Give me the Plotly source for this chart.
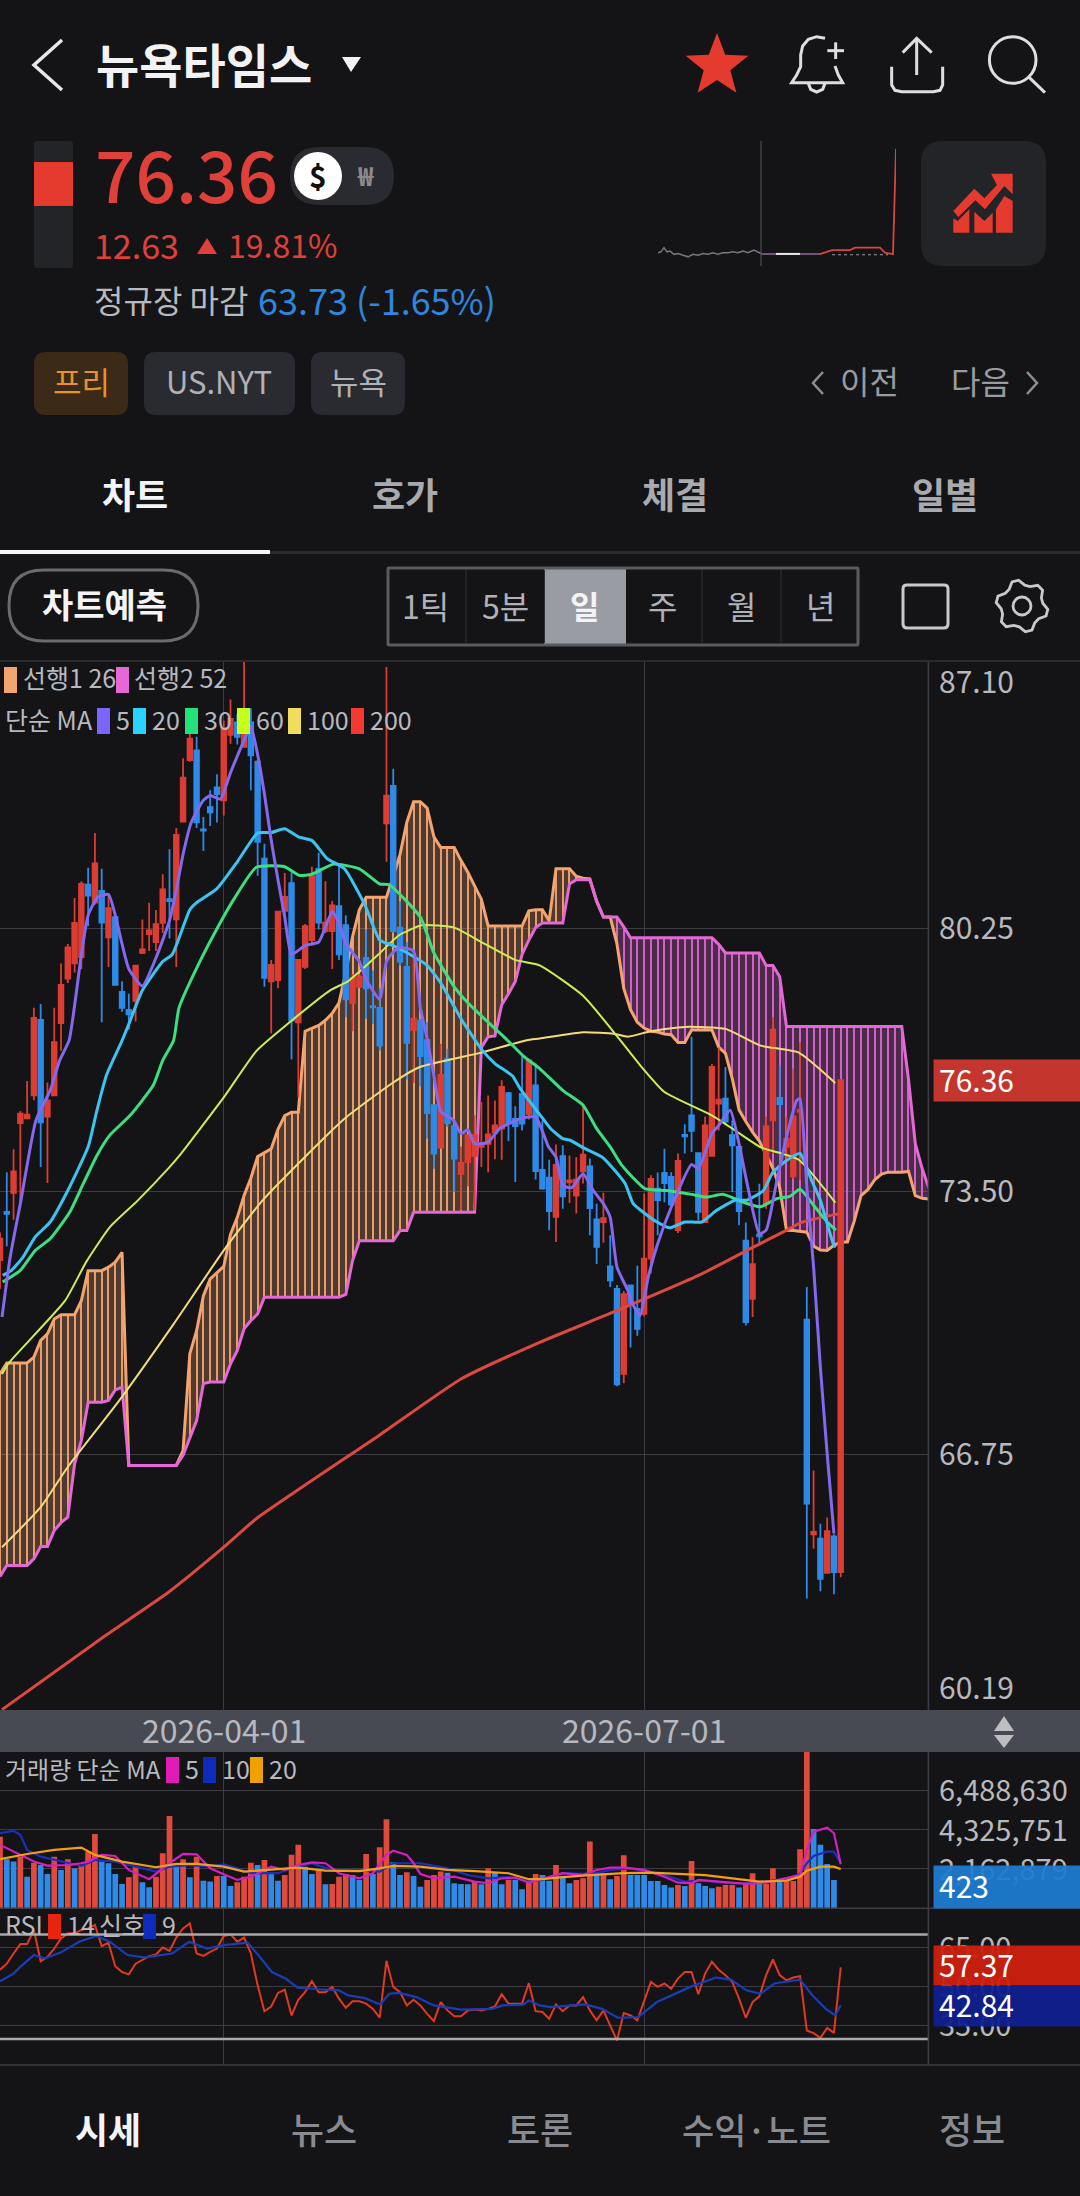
import numpy as np
import plotly.graph_objects as go

W = 1080
H = 2196
BG = '#141417'
FONT = 'Noto Sans CJK KR'
RED = '#DC3D32'
BLUE = '#2E8AE6'
GRID = '#3c3d42'

# candles, one per trading day
opens = [71.74, 72.98, 73.47, 75.26, 75.38, 75.97, 77.91, 75.43, 75.97, 77.83,
         78.97, 79.36, 79.52, 81.38, 80.92, 81.22, 80.03, 80.55, 78.63, 78.17,
         78.40, 79.63, 80.11, 79.91, 80.40, 81.01, 80.49, 83.00, 84.58, 84.83,
         82.80, 83.37, 83.88, 83.55, 85.23, 85.55, 84.92, 85.55, 84.54, 82.05,
         78.90, 78.93, 80.71, 81.42, 77.85, 79.27, 79.96, 81.79, 80.19, 80.19,
         80.83, 80.34, 78.35, 78.76, 79.50, 78.26, 78.22, 82.96, 83.92, 80.28,
         79.27, 77.65, 77.89, 77.39, 75.72, 74.63, 76.91, 75.18, 73.96, 74.26,
         74.41, 74.65, 74.73, 75.01, 75.12, 76.03, 75.37, 76.01, 75.50, 76.23,
         74.06, 73.86, 72.85, 74.41, 73.74, 73.40, 74.02, 74.15, 72.79, 72.72,
         71.58, 71.00, 68.82, 71.09, 70.49, 70.36, 71.78, 73.58, 73.98, 73.88,
         72.51, 74.96, 75.46, 74.49, 72.72, 74.42, 75.76, 75.89, 74.95, 74.65,
         72.24, 70.75, 72.40, 73.19, 75.33, 75.91, 74.65, 73.89, 75.55, 70.21,
         64.70, 64.59, 63.71, 64.65, 63.73]
closes = [72.29, 72.93, 74.02, 75.50, 75.48, 77.96, 75.28, 75.84, 77.34, 78.81,
          79.77, 80.40, 81.40, 81.10, 81.93, 80.41, 80.78, 78.81, 78.22, 78.05,
          79.30, 79.72, 80.21, 80.37, 81.26, 80.96, 82.66, 84.13, 85.13, 82.98,
          82.77, 83.24, 83.71, 85.41, 85.64, 85.18, 85.23, 84.70, 82.48, 78.99,
          79.32, 80.69, 81.07, 77.89, 79.45, 80.32, 81.60, 80.41, 80.41, 80.85,
          79.59, 78.44, 78.99, 79.02, 78.72, 78.23, 77.25, 83.67, 80.19, 79.41,
          77.32, 77.94, 76.98, 75.52, 74.48, 76.50, 75.26, 74.35, 74.24, 74.95,
          74.96, 74.75, 74.97, 75.20, 76.19, 75.25, 75.18, 75.25, 76.87, 74.03,
          73.58, 73.00, 74.19, 73.38, 73.79, 73.81, 74.45, 73.08, 72.08, 72.82,
          71.22, 68.55, 70.87, 70.62, 69.98, 71.78, 73.83, 73.28, 73.72, 73.17,
          74.29, 74.92, 75.06, 72.98, 75.20, 76.70, 75.86, 75.30, 74.69, 73.00,
          70.15, 71.64, 72.35, 75.18, 77.66, 75.75, 74.86, 75.43, 75.60, 65.49,
          64.76, 63.56, 64.78, 63.73, 76.36]
highs = [72.46, 74.00, 74.59, 75.57, 76.34, 78.22, 78.32, 76.30, 78.22, 79.36,
         79.86, 81.04, 81.47, 81.82, 82.71, 81.79, 81.10, 80.60, 78.90, 78.58,
         79.32, 80.49, 80.92, 80.73, 81.65, 82.29, 82.84, 84.63, 85.41, 85.18,
         83.12, 83.81, 84.22, 85.60, 86.14, 85.78, 87.10, 85.91, 84.58, 82.43,
         79.45, 80.70, 81.68, 81.70, 79.45, 80.37, 81.84, 82.20, 81.47, 80.96,
         81.88, 80.60, 79.09, 79.09, 80.23, 79.18, 78.72, 86.97, 84.36, 80.96,
         79.91, 79.68, 77.94, 77.85, 75.74, 77.30, 77.17, 75.25, 74.66, 74.95,
         75.46, 75.80, 75.97, 75.84, 76.36, 76.06, 75.69, 77.02, 76.89, 76.80,
         75.33, 74.32, 74.71, 74.69, 74.43, 74.39, 75.72, 74.35, 73.19, 73.47,
         72.38, 71.10, 70.95, 71.10, 71.60, 73.45, 73.92, 73.99, 74.60, 74.00,
         74.48, 75.23, 77.48, 74.50, 75.43, 76.78, 77.20, 76.70, 75.33, 74.69,
         72.71, 72.33, 73.70, 75.42, 77.98, 76.74, 75.42, 76.66, 77.34, 71.05,
         66.34, 64.97, 65.13, 64.70, 76.40]
lows = [71.00, 72.10, 72.78, 73.19, 75.38, 75.85, 74.13, 73.72, 75.97, 77.12,
        78.86, 79.13, 79.22, 80.32, 80.87, 77.85, 79.27, 78.81, 78.12, 77.66,
        77.87, 79.60, 79.68, 79.68, 80.14, 80.00, 79.27, 82.98, 84.54, 82.84,
        82.25, 82.89, 82.98, 83.16, 85.00, 84.98, 84.90, 83.81, 81.61, 78.76,
        77.57, 78.72, 80.41, 76.89, 75.92, 79.22, 79.82, 80.23, 80.14, 79.22,
        79.45, 77.98, 77.62, 78.72, 77.94, 77.80, 77.12, 81.97, 80.15, 79.30,
        76.38, 76.29, 76.20, 74.86, 74.09, 74.60, 75.16, 73.49, 73.02, 73.64,
        73.02, 74.13, 74.00, 74.33, 74.32, 74.80, 73.75, 75.07, 75.35, 73.81,
        73.55, 72.51, 72.21, 73.06, 73.21, 72.94, 73.71, 72.38, 71.64, 72.19,
        71.05, 68.50, 68.58, 69.50, 69.80, 70.30, 71.40, 72.38, 73.23, 73.15,
        72.44, 74.48, 74.52, 72.76, 72.72, 74.42, 75.07, 75.25, 73.49, 72.64,
        70.06, 70.28, 72.12, 73.06, 74.48, 74.40, 74.30, 73.83, 73.79, 63.05,
        64.33, 63.24, 63.71, 63.16, 63.60]

# ichimoku spans, run 26 days past the last candle
span1 = [68.82, 69.10, 69.10, 69.10, 69.10, 69.25, 69.68, 69.85, 70.23, 70.34,
         70.34, 70.34, 70.70, 71.47, 71.47, 71.47, 71.56, 71.69, 71.94, 66.47,
         66.47, 66.47, 66.47, 66.47, 66.47, 66.47, 66.47, 66.85, 69.34, 69.93,
         70.83, 71.26, 71.43, 71.58, 72.41, 72.84, 73.40, 73.85, 74.40, 74.50,
         74.60, 75.10, 75.45, 75.54, 75.54, 77.62, 77.70, 77.77, 77.90, 78.08,
         78.35, 79.13, 80.05, 80.74, 81.06, 81.06, 81.06, 81.06, 81.60, 82.16,
         82.98, 83.51, 83.51, 83.35, 82.61, 82.34, 82.34, 82.34, 82.00, 81.70,
         81.35, 81.01, 80.32, 80.32, 80.32, 80.32, 80.32, 80.32, 80.71, 80.74,
         80.74, 80.46, 81.79, 81.79, 81.79, 81.60, 81.55, 81.53, 80.96, 80.55,
         80.55, 79.86, 78.72, 78.17, 77.85, 77.70, 77.62, 77.60, 77.55, 77.53,
         77.33, 77.33, 77.65, 77.65, 77.65, 77.65, 77.21, 77.05, 76.40, 75.60,
         75.30, 75.03, 74.80, 74.45, 74.10, 73.60, 72.51, 72.50, 72.48, 72.46,
         72.10, 72.00, 71.99, 72.12, 72.21, 72.21, 72.75, 73.40, 73.55, 73.80,
         73.95, 74.00, 74.00, 74.00, 74.02, 73.40, 73.33, 73.31]
span2 = [63.62, 63.90, 63.90, 63.90, 63.90, 64.07, 64.39, 64.39, 64.80, 65.00,
         65.14, 66.51, 67.11, 68.09, 68.09, 68.09, 68.14, 68.41, 68.48, 66.47,
         66.47, 66.47, 66.47, 66.47, 66.47, 66.47, 66.47, 66.73, 67.20, 67.62,
         68.57, 68.61, 68.61, 68.61, 69.08, 69.42, 69.98, 70.19, 70.36, 70.79,
         70.79, 70.79, 70.79, 70.79, 70.79, 70.79, 70.79, 70.79, 70.79, 70.79,
         70.79, 70.86, 71.73, 72.24, 72.24, 72.24, 72.24, 72.24, 72.24, 72.50,
         72.50, 72.97, 72.97, 72.97, 72.97, 72.97, 72.97, 72.97, 72.97, 72.97,
         72.97, 77.20, 77.48, 77.50, 78.30, 78.58, 78.90, 79.59, 79.96, 80.28,
         80.40, 80.40, 80.40, 80.40, 81.40, 81.51, 81.51, 81.51, 80.96, 80.55,
         80.55, 80.55, 80.30, 80.02, 80.02, 80.02, 80.02, 80.02, 80.02, 80.02,
         80.02, 80.02, 80.02, 80.02, 80.02, 80.02, 79.85, 79.63, 79.63, 79.63,
         79.63, 79.63, 79.63, 79.31, 79.31, 79.02, 77.74, 77.74, 77.74, 77.74,
         77.74, 77.74, 77.74, 77.74, 77.74, 77.74, 77.74, 77.74, 77.74, 77.74,
         77.74, 77.74, 77.74, 77.74, 76.38, 74.73, 74.10, 73.59]

# moving averages, read at the line's bends
ma5_x = [0.3, 1.5, 3, 5.3, 7.4, 8.8, 10.2, 12, 13, 14.4, 16, 17, 18, 19, 21, 23, 25, 26, 27, 28.2, 30, 31,
         32.5, 34, 36, 37, 38, 39, 40, 41, 42, 43, 45, 47, 49, 50, 51, 53, 54, 56, 57, 58, 59, 61, 62, 63,
         64, 65, 66.9, 68, 69, 70, 72, 73.7, 76.7, 79, 80.9, 82, 83, 84.3, 86, 87.5, 89, 90, 91, 92.5, 93.3,
         94.4, 95.6, 97, 99, 102, 103, 105, 106, 107.7, 109, 110.3, 112, 113, 114.5, 116, 117.5, 118, 119,
         120, 121, 122, 123]
ma5_y = [70.28, 71.82, 73.19, 75.33, 76.10, 76.87, 77.39, 79.59, 80.60, 81.06, 81.13, 80.60, 79.86, 79.22,
         78.78, 79.50, 80.46, 81.24, 82.16, 82.98, 83.55, 83.67, 83.58, 84.26, 85.09, 85.45, 84.72, 83.71,
         82.52, 81.51, 80.55, 79.59, 79.82, 79.91, 80.69, 80.41, 79.86, 79.41, 78.95, 78.44, 79.41, 79.65,
         79.77, 79.68, 78.22, 77.43, 76.47, 75.56, 75.33, 74.99, 75.09, 74.73, 74.77, 75.12, 75.37, 75.42,
         74.65, 74.39, 73.66, 73.60, 73.96, 73.53, 73.19, 72.84, 71.56, 71.00, 70.62, 70.32, 71.30, 72.16,
         73.10, 74.20, 74.09, 74.99, 75.20, 75.59, 74.73, 73.62, 72.42, 72.51, 73.71, 74.90, 75.84, 75.89,
         73.62, 71.56, 68.99, 66.77, 64.72]
ma20_x = [0.4, 1.7, 3.4, 5.2, 7.4, 10, 13, 14.3, 15.7, 18, 19, 21, 24, 25.4, 28, 29, 32, 35, 38, 40, 42, 44,
          46, 48.2, 50.8, 53.8, 56, 58, 61, 63, 65, 68, 71, 73, 75.6, 76.7, 79.7, 81.2, 83, 84.1, 86, 88.8,
          90, 92.2, 93.4, 95.1, 96.9, 98.8, 101, 103.5, 105.7, 108.4, 110.1, 112.6, 114, 116, 118, 119.7,
          121, 123, 123.3]
ma20_y = [71.35, 71.48, 71.82, 72.34, 72.72, 73.53, 74.65, 75.59, 76.49, 77.38, 77.80, 78.67, 79.41, 79.59,
          80.74, 80.92, 81.28, 81.97, 82.71, 82.72, 82.82, 82.61, 82.52, 82.06, 81.79, 80.87, 79.96, 79.82,
          79.54, 79.31, 78.86, 77.94, 77.16, 76.79, 76.47, 76.15, 75.46, 75.12, 74.86, 74.82, 74.63, 74.39,
          74.18, 73.71, 73.19, 72.94, 72.72, 72.57, 72.72, 72.72, 73.02, 73.28, 73.28, 73.53, 74.00, 74.30,
          74.48, 73.79, 73.28, 72.12, 72.08]
ma30_x = [0.4, 3, 5.2, 7.4, 10.3, 12.3, 14.3, 16.2, 19.2, 22.6, 24, 25.6, 26.4, 29.2, 32.5, 34.5, 37.8, 41.9,
          44.2, 46, 49.2, 53, 56, 57.4, 62, 64, 67, 69, 72.3, 74.6, 77.2, 79.6, 83, 86, 88, 90, 91.7, 95.1,
          98.3, 102, 104.2, 106.7, 109.6, 112.1, 114.6, 116.5, 118, 120, 122, 123.3]
ma30_y = [71.18, 71.48, 71.99, 72.29, 72.98, 73.71, 74.43, 74.95, 75.46, 76.23, 76.87, 77.38, 78.22, 79.31,
          80.41, 81.01, 81.83, 81.85, 81.62, 81.65, 81.91, 81.79, 81.40, 81.38, 80.55, 79.63, 78.76, 78.35,
          77.80, 77.43, 76.98, 76.66, 76.10, 75.72, 75.12, 74.65, 74.18, 73.58, 73.53, 73.43, 73.36, 73.43,
          73.23, 73.11, 73.32, 73.38, 73.56, 73.15, 72.72, 72.51]
ma60_x = [0.3, 1.3, 9.6, 12.7, 16.2, 20.3, 25, 26.4, 33, 37.8, 43, 48.7, 51.3, 55.8, 58.9, 62.2, 67, 71, 76,
          79.6, 86, 91.3, 94.4, 98, 105, 108.6, 112.2, 117.8, 123.2]
ma60_y = [68.82, 69.10, 70.70, 71.69, 72.59, 73.27, 74.13, 74.41, 75.92, 77.11, 77.89, 78.67, 78.90, 79.59,
          80.09, 80.34, 80.28, 79.91, 79.45, 79.31, 78.53, 77.43, 76.75, 76.06, 75.46, 75.05, 74.64, 74.32,
          73.22]
ma100_x = [0.3, 6, 10, 17.6, 25.6, 33, 38.7, 50.8, 57.9, 61.9, 71, 77.7, 79.6, 86, 90.6, 92.6, 96, 101, 107,
           112.2, 117.8, 123.2]
ma100_y = [64.37, 65.40, 66.43, 68.14, 70.10, 71.99, 73.27, 75.37, 76.29, 76.70, 77.07, 77.39, 77.43, 77.59,
           77.55, 77.48, 77.62, 77.73, 77.68, 77.25, 77.07, 76.29]
ma200_x = [0.3, 15.2, 24.9, 33, 37.8, 55.9, 68, 79.6, 89.8, 103.5, 110.6, 115.9, 118.2, 123.6]
ma200_y = [60.20, 62.06, 63.22, 64.37, 65.10, 67.24, 68.69, 69.63, 70.36, 71.39, 72.03, 72.50, 72.71, 72.93]

# volume in millions of shares
volume = [3.94, 2.70, 2.57, 2.84, 1.74, 2.51, 2.38, 1.89, 2.84, 2.11,
          2.70, 2.20, 2.33, 3.12, 4.09, 2.57, 2.48, 1.89, 1.34, 1.71,
          2.33, 1.43, 1.16, 1.74, 3.03, 5.08, 2.48, 2.70, 1.71, 2.84,
          1.52, 1.47, 1.78, 1.78, 1.23, 1.43, 1.74, 2.51, 2.38, 2.66,
          1.89, 1.52, 1.83, 2.94, 3.49, 2.29, 1.89, 2.11, 1.32, 1.34,
          1.74, 1.89, 1.83, 1.56, 2.99, 1.89, 3.36, 4.90, 2.53, 1.83,
          1.98, 1.78, 1.19, 1.56, 1.83, 2.02, 1.96, 1.38, 1.34, 1.32,
          1.50, 1.32, 2.20, 1.96, 1.32, 1.56, 1.56, 1.05, 1.47, 1.89,
          1.83, 1.52, 2.38, 1.74, 1.38, 1.56, 1.65, 3.67, 1.83, 1.93,
          1.60, 1.78, 2.92, 1.83, 1.83, 1.83, 1.50, 1.50, 1.28, 1.14,
          1.28, 1.23, 2.60, 1.38, 1.23, 1.10, 1.19, 1.28, 1.28, 1.14,
          1.34, 1.93, 1.34, 1.34, 2.20, 1.47, 1.50, 1.50, 3.25, 9.00,
          4.37, 3.49, 2.44, 1.56, 0.0004]
volume_up = [1, 0, 0, 1, 0, 1, 0, 0, 1, 0,
             1, 0, 1, 1, 1, 0, 0, 0, 0, 1,
             1, 0, 0, 1, 1, 1, 0, 1, 0, 1,
             0, 0, 1, 0, 0, 1, 1, 1, 0, 1,
             0, 0, 1, 1, 1, 0, 0, 1, 0, 1,
             1, 1, 0, 0, 1, 0, 1, 1, 0, 0,
             1, 0, 0, 1, 1, 1, 0, 0, 0, 0,
             1, 0, 1, 0, 0, 1, 0, 0, 1, 1,
             0, 0, 1, 0, 0, 1, 1, 1, 0, 1,
             0, 1, 1, 0, 0, 0, 0, 0, 0, 0,
             1, 0, 1, 0, 0, 0, 1, 1, 1, 0,
             1, 1, 0, 1, 1, 0, 1, 1, 1, 1,
             0, 0, 0, 0, 0]
vol5_x = [0, 3, 5, 7, 10, 12, 13, 15, 17, 19, 22, 25, 27, 29, 31, 33, 35, 37, 40, 42, 44, 46, 48, 50, 53, 55,
          57, 58, 60, 61, 62, 64, 67, 70, 72, 74, 76, 78, 83, 86, 88, 90, 92, 95, 98, 100, 102, 103, 106, 110,
          113, 116, 118, 119, 120, 122, 123, 124]
vol5_y = [3.49, 2.94, 2.57, 2.35, 2.38, 2.48, 2.57, 2.94, 2.88, 2.11, 1.60, 2.48, 2.99, 2.97, 2.20, 1.87, 1.56,
          1.74, 2.29, 2.11, 2.38, 2.53, 2.48, 1.93, 1.65, 1.93, 2.94, 3.17, 2.94, 2.48, 1.89, 1.65, 1.74, 1.47,
          1.38, 1.65, 1.69, 1.41, 1.93, 1.83, 2.11, 2.24, 2.24, 2.11, 1.74, 1.41, 1.38, 1.56, 1.47, 1.34, 1.41,
          1.65, 1.83, 3.21, 4.22, 4.44, 4.13, 2.42]
vol10_x = [0, 2, 3, 4, 6, 9, 12, 14, 17, 20, 23, 25, 28, 31, 33, 35, 37, 41, 43, 46, 49, 53, 56, 58, 62, 66, 69,
           72, 75, 78, 80, 83, 86, 88, 90, 93, 95, 98, 101, 104, 107, 110, 113, 116, 118, 119, 120, 122, 123, 124]
vol10_y = [4.13, 4.26, 4.04, 3.21, 2.84, 2.57, 2.33, 2.66, 2.57, 2.29, 2.02, 2.29, 2.38, 2.29, 2.42, 2.20, 1.93,
           1.93, 2.20, 2.48, 2.11, 2.11, 2.02, 2.48, 2.48, 2.20, 1.83, 1.65, 1.71, 1.50, 1.56, 1.93, 1.89, 1.93,
           2.11, 2.20, 2.07, 1.83, 1.47, 1.52, 1.38, 1.38, 1.47, 1.65, 1.89, 2.48, 2.88, 3.12, 3.12, 2.48]
vol20_x = [0, 4, 8, 12, 14, 18, 23, 26, 29, 33, 36, 40, 44, 48, 53, 56, 58, 62, 66, 70, 75, 78, 80, 83, 87, 92,
           96, 100, 104, 108, 112, 116, 118, 119, 121, 123, 124]
vol20_y = [2.70, 2.99, 3.21, 3.34, 2.94, 2.57, 2.26, 2.44, 2.44, 2.29, 2.02, 2.11, 2.24, 2.07, 2.05, 2.20, 2.33,
           2.29, 2.11, 2.05, 1.93, 1.60, 1.61, 1.71, 1.83, 1.93, 1.96, 1.89, 1.83, 1.65, 1.47, 1.52, 1.74, 2.07,
           2.29, 2.29, 2.16]

# RSI and its signal
rsi = [56.5, 58.8, 62.7, 66.3, 66.3, 71.7, 59.7, 61.4, 64.6, 68.5,
       70.4, 70.4, 71.7, 72.3, 73.6, 65.5, 66.8, 57.8, 55.6, 54.7,
       58.8, 60.4, 61.7, 62.3, 65.0, 63.7, 68.8, 72.3, 74.2, 62.7,
       61.8, 63.3, 64.6, 69.4, 70.0, 67.2, 68.8, 62.7, 50.5, 40.6,
       42.4, 47.6, 48.8, 39.0, 45.0, 47.9, 52.1, 47.9, 47.9, 49.9,
       45.4, 41.9, 44.4, 44.4, 43.5, 41.5, 38.1, 59.9, 49.9, 47.9,
       42.8, 45.0, 42.8, 39.6, 36.8, 44.1, 40.9, 38.7, 38.7, 40.9,
       41.2, 40.9, 41.5, 42.4, 47.1, 43.5, 43.5, 43.5, 51.4, 40.6,
       40.3, 37.7, 43.2, 40.6, 42.8, 42.8, 46.0, 40.9, 37.1, 40.9,
       35.1, 29.4, 39.9, 39.0, 37.1, 44.7, 51.8, 49.9, 51.2, 49.2,
       53.1, 55.6, 55.6, 47.1, 55.0, 59.5, 56.5, 54.4, 51.8, 45.4,
       38.1, 44.1, 46.3, 54.4, 60.4, 54.4, 52.4, 53.5, 54.0, 33.2,
       32.2, 30.4, 34.2, 32.3, 57.37]
signal_x = [0, 2, 3, 5, 6.6, 9.1, 11.7, 14.2, 16.2, 18.8, 21.3, 25.4, 27.9, 30.5, 33, 36.5, 38.1, 40.1, 42.1, 43.9,
            47, 50, 51.3, 53.8, 56.1, 57.4, 58.9, 61.4, 64, 68, 72.6, 74.1, 77.2, 78, 79.6, 81.2, 86.3, 88.8, 91.1,
            94.1, 96.9, 99.5, 102, 105.6, 107.8, 110.1, 112.2, 114.2, 118, 119.8, 121.8, 123.2, 124]
signal_y = [52.1, 55.0, 57.6, 62.1, 60.8, 63.3, 67.2, 69.4, 67.2, 62.1, 61.2, 62.7, 67.2, 64.6, 65.9, 66.8, 62.1, 55.6,
            53.1, 49.6, 49.0, 48.6, 46.7, 45.6, 43.2, 47.3, 47.6, 46.0, 42.8, 41.2, 41.5, 42.8, 43.1, 44.7, 42.8, 42.2,
            43.2, 41.5, 38.1, 38.3, 44.1, 47.3, 50.1, 53.5, 52.7, 48.6, 47.3, 51.2, 52.7, 46.7, 41.5, 39.0, 42.84]

# small intraday line in the header
spark_reg_x = [0, 3, 6, 9, 12, 16, 20, 25, 30, 35, 40, 45, 50, 55, 60, 65, 70, 75, 80, 85, 90, 96, 100, 103]
spark_reg_y = [63.9, 64.0, 64.5, 64.0, 64.1, 63.7, 63.8, 63.6, 63.4, 63.7, 63.6, 63.8, 63.7, 63.9, 63.7, 63.9, 63.9, 64.0,
               63.9, 64.1, 63.9, 64.2, 64.0, 63.8]
spark_after_x = [103, 118, 142, 162]
spark_after_y = [63.75, 63.75, 63.75, 63.75]
spark_after_mid_x = [118, 142]
spark_after_mid_y = [63.75, 63.75]
spark_pre_x = [162, 174, 192, 197, 222, 227, 235, 238]
spark_pre_y = [63.73, 64.2, 64.2, 64.5, 64.5, 63.9, 63.73, 76.36]
spark_close_x = [174, 230]
spark_close_y = [63.65, 63.65]

price_ticks = [80.25, 73.50, 66.75]
volume_ticks = [2.162879, 4.325751, 6.48863]
rsi_ticks = [65, 50, 35]
date_ticks = [33, 95]
date_labels = ['2026-04-01', '2026-07-01']

PLOT_R = 928.4
K_MAX = PLOT_R / 6.78


def dom_y(top, bottom):
    return [1 - bottom / H, 1 - top / H]


def fx(x):
    return x / W


def fy(y):
    return 1 - y / H


def poly(points, close=True):
    s = 'M ' + ' L '.join(f'{fx(x):.5f},{fy(y):.5f}' for x, y in points)
    return s + (' Z' if close else '')


def rrect_path(x0, y0, x1, y1, r):
    def p(x, y):
        return f'{fx(x):.5f},{fy(y):.5f}'
    return (f'M {p(x0 + r, y0)} L {p(x1 - r, y0)} Q {p(x1, y0)} {p(x1, y0 + r)} '
            f'L {p(x1, y1 - r)} Q {p(x1, y1)} {p(x1 - r, y1)} L {p(x0 + r, y1)} '
            f'Q {p(x0, y1)} {p(x0, y1 - r)} L {p(x0, y0 + r)} Q {p(x0, y0)} {p(x0 + r, y0)} Z')


shapes = []
annots = []


def rect(x0, y0, x1, y1, color, layer='above'):
    shapes.append(dict(type='rect', xref='paper', yref='paper', x0=fx(x0), x1=fx(x1), y0=fy(y1), y1=fy(y0),
                       fillcolor=color, line_width=0, layer=layer))


def rrect(x0, y0, x1, y1, r, fill=None, line=None, lw=0):
    shapes.append(dict(type='path', xref='paper', yref='paper', path=rrect_path(x0, y0, x1, y1, r),
                       fillcolor=fill or 'rgba(0,0,0,0)', line=dict(color=line or 'rgba(0,0,0,0)', width=lw),
                       layer='above'))


def pline(points, color, lw=3, close=False, fill=None):
    shapes.append(dict(type='path', xref='paper', yref='paper', path=poly(points, close),
                       fillcolor=fill or 'rgba(0,0,0,0)', line=dict(color=color, width=lw), layer='above'))


def circle(cx, cy, r, color=None, line=None, lw=0):
    shapes.append(dict(type='circle', xref='paper', yref='paper', x0=fx(cx - r), x1=fx(cx + r),
                       y0=fy(cy + r), y1=fy(cy - r), fillcolor=color or 'rgba(0,0,0,0)',
                       line=dict(color=line or 'rgba(0,0,0,0)', width=lw), layer='above'))


def txt(x, y, text, size, color='#B8B9BE', anchor='center', weight=400, **kw):
    # glyphs of this font sit about 2px low of the middle
    annots.append(dict(xref='paper', yref='paper', x=fx(x), y=fy(y - 2), text=text, showarrow=False,
                       xanchor=anchor, yanchor='middle', borderpad=0,
                       font=dict(family=FONT, size=size, color=color, weight=weight), **kw))


def tag(y0, y1, text, bg):
    # background is its own annotation so it can cover the axis label under it
    annots.append(dict(xref='paper', yref='paper', x=fx(933), y=fy((y0 + y1) / 2), text=' ', showarrow=False,
                       xanchor='left', yanchor='middle', width=147, height=y1 - y0, borderpad=0,
                       bgcolor=bg, font=dict(family=FONT, size=12)))
    txt(938, (y0 + y1) / 2, text, 30, '#FFFFFF', anchor='left')


fig = go.Figure()

# cloud hatch and fill sit on the base axes so candles stay above them
k_cloud = list(range(len(span1)))
hatch_colors = ['#E09C70' if a >= b else '#C860BE' for a, b in zip(span1, span2)]
fig.add_trace(go.Bar(x=k_cloud, y=[abs(a - b) for a, b in zip(span1, span2)],
                     base=[min(a, b) for a, b in zip(span1, span2)], width=0.16,
                     marker=dict(color=hatch_colors, line_width=0), xaxis='x', yaxis='y'))

start = 0
for i in range(1, len(span1) + 1):
    if i == len(span1) or (span1[i] >= span2[i]) != (span1[start] >= span2[start]):
        stop = min(i, len(span1) - 1)
        seg = list(range(start, stop + 1))
        fill = 'rgba(244,164,110,0.27)' if span1[start] >= span2[start] else 'rgba(228,105,214,0.27)'
        fig.add_trace(go.Scatter(x=seg + seg[::-1], y=[span1[j] for j in seg] + [span2[j] for j in seg[::-1]],
                                 mode='lines', line_width=0, fill='toself', fillcolor=fill,
                                 xaxis='x', yaxis='y'))
        start = i

fig.add_trace(go.Scatter(x=k_cloud, y=span1, mode='lines', line=dict(color='#F4A46E', width=3), xaxis='x', yaxis='y'))
fig.add_trace(go.Scatter(x=k_cloud, y=span2, mode='lines', line=dict(color='#E469D6', width=3), xaxis='x', yaxis='y'))

# candles and moving averages on the overlay axes
days = list(range(len(opens)))
fig.add_trace(go.Candlestick(x=days, open=opens, high=highs, low=lows, close=closes,
                             increasing=dict(line=dict(color=RED, width=1.8), fillcolor=RED),
                             decreasing=dict(line=dict(color=BLUE, width=1.8), fillcolor=BLUE),
                             whiskerwidth=0, xaxis='x2', yaxis='y2'))

for xs, ys, color, width in [(ma200_x, ma200_y, '#DB4A40', 3),
                             (ma100_x, ma100_y, '#F4DC78', 2),
                             (ma60_x, ma60_y, '#CCEE55', 2),
                             (ma30_x, ma30_y, '#3CDE80', 3),
                             (ma20_x, ma20_y, '#3CC4F0', 3),
                             (ma5_x, ma5_y, '#8468EE', 3)]:
    fig.add_trace(go.Scatter(x=xs, y=ys, mode='lines', line=dict(color=color, width=width, shape='spline', smoothing=0.5),
                             xaxis='x2', yaxis='y2'))

# volume
fig.add_trace(go.Bar(x=days, y=volume, width=0.84,
                     marker=dict(color=['#E04A3C' if u else '#2E8AE6' for u in volume_up], line_width=0),
                     xaxis='x3', yaxis='y3'))
for xs, ys, color in [(vol10_x, vol10_y, '#1A2FC0'), (vol5_x, vol5_y, '#D61FC0'), (vol20_x, vol20_y, '#F0A010')]:
    fig.add_trace(go.Scatter(x=xs, y=ys, mode='lines', line=dict(color=color, width=2.2), xaxis='x3', yaxis='y3'))

# RSI
fig.add_trace(go.Scatter(x=days, y=rsi, mode='lines', line=dict(color='#E03A22', width=2), xaxis='x4', yaxis='y4'))
fig.add_trace(go.Scatter(x=signal_x, y=signal_y, mode='lines', line=dict(color='#1A3CB4', width=2.2), xaxis='x4', yaxis='y4'))
for level in [70, 30]:
    shapes.append(dict(type='line', xref='x4', yref='y4', x0=0, x1=K_MAX, y0=level, y1=level,
                       line=dict(color='#A9A9AC', width=2.5), layer='above'))

# header sparkline
fig.add_trace(go.Scatter(x=spark_reg_x, y=spark_reg_y, mode='lines', line=dict(color='#77787C', width=1.5), xaxis='x5', yaxis='y5'))
fig.add_trace(go.Scatter(x=spark_after_x, y=spark_after_y, mode='lines', line=dict(color='#8E6A96', width=1.5), xaxis='x5', yaxis='y5'))
fig.add_trace(go.Scatter(x=spark_after_mid_x, y=spark_after_mid_y, mode='lines', line=dict(color='#E8E8E8', width=2), xaxis='x5', yaxis='y5'))
fig.add_trace(go.Scatter(x=spark_close_x, y=spark_close_y, mode='lines', line=dict(color='#9A9BA0', width=1.2, dash='dot'), xaxis='x5', yaxis='y5'))
fig.add_trace(go.Scatter(x=spark_pre_x, y=spark_pre_y, mode='lines', line=dict(color='#D8453A', width=1.8), xaxis='x5', yaxis='y5'))

hidden = dict(visible=False, fixedrange=True)
price_range = [60.19, 87.10]
x_common = dict(range=[0, K_MAX], domain=[0, PLOT_R / W], showticklabels=False, ticks='', zeroline=False,
                tickmode='array', tickvals=date_ticks, gridcolor=GRID, gridwidth=1.2, showgrid=True,
                showline=False)
y_common = dict(showticklabels=False, ticks='', zeroline=False, tickmode='array', gridcolor=GRID, gridwidth=1.2,
                showgrid=True, showline=False)

fig.update_layout(
    width=W, height=H, autosize=False,
    margin=dict(l=0, r=0, t=0, b=0),
    paper_bgcolor=BG, plot_bgcolor=BG,
    showlegend=False, hovermode=False, barmode='overlay', boxgap=0.32, boxgroupgap=0,
    dragmode=False,
    xaxis=dict(x_common, anchor='y'),
    yaxis=dict(y_common, range=price_range, domain=dom_y(662, 1710), tickvals=price_ticks, anchor='x'),
    xaxis2=dict(range=[0, K_MAX], domain=[0, PLOT_R / W], overlaying='x', visible=False, anchor='y2',
                rangeslider=dict(visible=False)),
    yaxis2=dict(range=price_range, overlaying='y', visible=False, anchor='x2'),
    xaxis3=dict(x_common, anchor='y3'),
    yaxis3=dict(y_common, range=[0, 8.6], domain=dom_y(1752, 1908.3), tickvals=volume_ticks, anchor='x3'),
    xaxis4=dict(x_common, anchor='y4'),
    yaxis4=dict(y_common, range=[20, 80], domain=dom_y(1908.3, 2065), tickvals=rsi_ticks, anchor='x4'),
    xaxis5=dict(hidden, range=[0, 238], domain=[658 / W, 896 / W], anchor='y5'),
    yaxis5=dict(hidden, range=[62.3, 77.3], domain=dom_y(141, 266), anchor='x5'),
)

# price axis labels and last-price tag
for label, y in [('87.10', 682), ('80.25', 928), ('73.50', 1191), ('66.75', 1454), ('60.19', 1688)]:
    txt(938, y, label, 30, anchor='left')
tag(1060, 1101, '76.36', 'rgba(196,54,45,1)')

# frame lines around the chart panels
rect(0, 660, W, 662, '#2a2b2f')
rect(927.6, 662, 929.2, 2065, GRID)
rect(0, 1907.6, W, 1909, GRID)
rect(0, 2064.2, W, 2065.8, GRID)

# date band
rect(0, 1710, W, 1752, '#474A53')
for tick, label in zip(date_ticks, date_labels):
    annots.append(dict(xref='x', yref='paper', x=tick, y=fy(1729), text=label, showarrow=False, yanchor='middle',
                       font=dict(family=FONT, size=32, color='#B8B9BE')))
pline([(994, 1731), (1004, 1716), (1014, 1731)], '#BDBDC2', lw=0, close=True, fill='#BDBDC2')
pline([(994, 1735), (1004, 1748), (1014, 1735)], '#BDBDC2', lw=0, close=True, fill='#BDBDC2')

# volume and RSI axis labels, tags go over them
for label, y in [('6,488,630', 1790), ('4,325,751', 1830), ('2,162,879', 1869)]:
    txt(938, y, label, 29, anchor='left')
tag(1866, 1908, '423', 'rgba(30,123,208,0.94)')
for label, y in [('65.00', 1947), ('50.00', 1986), ('35.00', 2025)]:
    txt(938, y, label, 29, anchor='left')
tag(1946, 1985, '57.37', 'rgba(204,31,14,0.95)')
tag(1986, 2026, '42.84', 'rgba(15,31,142,0.95)')

# chart legends
LEG = 25
for x0, color in [(4, '#F4A46E'), (116, '#E469D6')]:
    rect(x0, 667, x0 + 13, 693, color)
txt(22, 679, '선행1 26', LEG, anchor='left')
txt(133, 679, '선행2 52', LEG, anchor='left')
txt(4, 721, '단순 MA', LEG, anchor='left')
for x0, color, label in [(97, '#7A66FF', '5'), (133, '#2AD2FF', '20'), (185, '#24E27A', '30'),
                         (237, '#C4FF1E', '60'), (288, '#F2DC5C', '100'), (351, '#F23A32', '200')]:
    rect(x0, 708, x0 + 13, 734, color)
    txt(x0 + 18, 721, label, LEG, anchor='left')
txt(4, 1770, '거래량 단순 MA', 24, anchor='left')
for x0, color, label in [(166, '#E01BB8', '5'), (203, '#0E2BBE', '10'), (250, '#F0A000', '20')]:
    rect(x0, 1757, x0 + 13, 1783, color)
    txt(x0 + 18, 1770, label, LEG, anchor='left')
txt(4, 1926, 'RSI', LEG, anchor='left')
rect(48, 1914, 61, 1939, '#E8240C')
txt(66, 1926, '14', LEG, anchor='left')
txt(98, 1926, '신호', LEG, anchor='left')
rect(143, 1914, 156, 1939, '#0E2BBE')
txt(161, 1926, '9', LEG, anchor='left')

# title row
pline([(62, 40), (34, 65), (62, 90)], '#E8E8EA', lw=3.5)
txt(95, 65, '뉴욕타임스', 47, '#F2F2F4', anchor='left', weight=700)
pline([(342, 57), (361, 57), (351, 72)], '#F2F2F4', lw=0, close=True, fill='#F2F2F4')

star_a = np.deg2rad(np.arange(10) * 36 - 90)
star_r = np.where(np.arange(10) % 2 == 0, 33, 14)
pline([(717 + r * np.cos(a), 66 + r * np.sin(a)) for a, r in zip(star_a, star_r)], '#E53B2F', lw=0, close=True, fill='#E53B2F')


def crop(x0, y0, points):
    return [(x0 + x / 3, y0 + y / 3) for x, y in points]


# bell, share and search icons
ICON = '#DEDEE2'
pline(crop(770, 20, [(165, 55), (140, 50), (115, 58), (98, 78), (92, 105), (92, 140), (80, 165), (65, 188), (218, 188),
                     (205, 165), (195, 138)]), ICON, lw=3)
pline(crop(770, 20, [(115, 190), (122, 208), (140, 216), (158, 208), (165, 190)]), ICON, lw=3)
pline(crop(770, 20, [(197, 67), (197, 117)]), ICON, lw=3)
pline(crop(770, 20, [(172, 92), (222, 92)]), ICON, lw=3)
pline(crop(770, 20, [(365, 140), (365, 195), (375, 211), (395, 215), (490, 215), (510, 211), (518, 195), (518, 140)]), ICON, lw=3)
pline(crop(770, 20, [(440, 165), (440, 55)]), ICON, lw=3)
pline(crop(770, 20, [(398, 98), (440, 55), (485, 98)]), ICON, lw=3)
circle(1012.7, 60, 23.3, line=ICON, lw=3)
pline(crop(770, 20, [(775, 170), (825, 218)]), ICON, lw=3)

# price block
rrect(34, 141, 73, 268, 3, fill='#232428')
rect(34, 162, 73, 206, '#E53B2F')
txt(94, 174, '76.36', 71, '#E0403A', anchor='left', weight=500)
rrect(290, 147, 394, 205, 29, fill='#2A2B30')
circle(318, 176, 24, color='#FFFFFF')
txt(318, 177, '$', 30, '#111111', weight=700)
txt(365, 177, '₩', 26, '#8B8C90', weight=700)
txt(93, 246, '12.63', 34, '#E0403A', anchor='left')
pline([(197, 254), (217, 254), (207, 238)], '#E0403A', lw=0, close=True, fill='#E0403A')
txt(227, 246, '19.81%', 32, '#E0403A', anchor='left')
txt(93, 301, '정규장 마감', 32, '#B8B9BE', anchor='left')
txt(257, 301, '63.73 (-1.65%)', 36, '#2E86DE', anchor='left')

# sparkline divider and icon box
rect(760.5, 141, 761.5, 266, '#55565A')
rrect(921, 141, 1046, 266, 22, fill='#232428')
pline(crop(921, 141, [(97, 210), (160, 143), (190, 172), (228, 132), (210, 98), (275, 98), (275, 160), (250, 135),
                      (192, 205), (163, 178), (112, 228)]), '#E53B2F', lw=0, close=True, fill='#E53B2F')
pline(crop(921, 141, [(97, 275), (97, 232), (110, 240), (145, 205), (145, 275)]), '#E53B2F', lw=0, close=True, fill='#E53B2F')
pline(crop(921, 141, [(160, 275), (160, 212), (190, 240), (215, 215), (215, 275)]), '#E53B2F', lw=0, close=True, fill='#E53B2F')
pline(crop(921, 141, [(225, 275), (225, 205), (250, 165), (275, 180), (275, 275)]), '#E53B2F', lw=0, close=True, fill='#E53B2F')

# chips and prev/next
rrect(34, 352, 128, 415, 12, fill='#3A2A17')
txt(81, 382, '프리', 31, '#E8912D')
rrect(144, 352, 295, 415, 12, fill='#2A2B30')
txt(219, 382, 'US.NYT', 31, '#B0B1B6')
rrect(311, 352, 405, 415, 12, fill='#2A2B30')
txt(358, 382, '뉴욕', 31, '#B0B1B6')
pline([(823, 372), (813, 383), (823, 394)], '#8E8F94', lw=2.5)
txt(869, 382, '이전', 32, '#9A9BA0')
txt(980, 382, '다음', 32, '#9A9BA0')
pline([(1027, 372), (1037, 383), (1027, 394)], '#8E8F94', lw=2.5)

# tabs
for x, label, color in [(135, '차트', '#F4F4F6'), (405, '호가', '#A9AAAE'), (675, '체결', '#A9AAAE'), (945, '일별', '#A9AAAE')]:
    txt(x, 495, label, 36, color, weight=700)
rect(0, 551, W, 554, '#2a2b2f')
rect(0, 550, 270, 554, '#F4F4F6')

# chart toolbar
rrect(9, 570, 198, 641, 35, line='#6A6B70', lw=3)
txt(104, 605, '차트예측', 34, '#F4F4F6', weight=700)
rect(544, 568, 626, 645, '#9A9CA3')
rrect(388, 568, 858, 645, 1, line='#5A5B60', lw=3)
for x in [466, 702, 781]:
    rect(x - 0.5, 570, x + 0.5, 643, '#2F3034')
rect(544, 570, 545, 643, '#2F3034')
for x, label, color in [(425, '1틱', '#B0B1B6'), (505, '5분', '#B0B1B6'), (584, '일', '#F4F4F6'),
                        (662, '주', '#B0B1B6'), (741, '월', '#B0B1B6'), (820, '년', '#B0B1B6')]:
    txt(x, 607, label, 32, color, weight=700 if label == '일' else 400)
rrect(903, 585, 948, 628, 4, line='#C8C9CC', lw=3)

# gear
gear_t = np.deg2rad(np.arange(0, 360, 15))
gear_r = [26, 26, 21, 21] * 6
pline([(1022 + r * np.cos(t + 0.13), 606 + r * np.sin(t + 0.13)) for t, r in zip(gear_t, gear_r)], '#C8C9CC', lw=2.8, close=True)
circle(1022, 606, 9, line='#C8C9CC', lw=2.8)

# bottom navigation
for x, label, color in [(108, '시세', '#F4F4F6'), (324, '뉴스', '#8A8B90'), (540, '토론', '#8A8B90'),
                        (756, '수익·노트', '#8A8B90'), (972, '정보', '#8A8B90')]:
    txt(x, 2130, label, 35 if len(label) > 2 else 36, color, weight=700 if label == '시세' else 500)

fig.update_layout(shapes=shapes, annotations=annots)
fig.write_html('out.html', config=dict(displayModeBar=False, responsive=False),
               post_script="document.body.style.margin='0';document.documentElement.style.overflow='hidden';")
